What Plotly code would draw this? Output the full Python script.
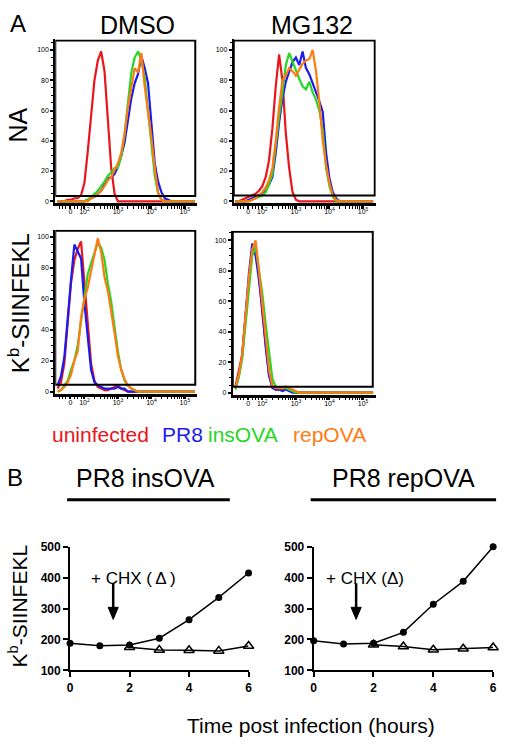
import plotly.graph_objects as go

W, H = 507, 750
FONT = "Arial, 'Liberation Sans', sans-serif"


def px(x):
    return x / W


def py(y):
    return 1 - y / H


# ---------------- Panel A data (flow histograms, % of max) ----------------
# x grid in display units of the biexponential axis (2 = 10^2, 3 = 10^3 ...)
fluor = [1.2, 1.3, 1.4, 1.5, 1.6, 1.7, 1.8, 1.9, 2.0, 2.1, 2.2, 2.3, 2.4, 2.5,
         2.6, 2.7, 2.8, 2.9, 3.0, 3.1, 3.2, 3.3, 3.4, 3.5, 3.6, 3.7, 3.8, 3.9,
         4.0, 4.1, 4.2, 4.3, 4.4, 4.5, 4.6, 4.7, 4.8, 4.9, 5.0, 5.1, 5.2, 5.3]

series_names = ["uninfected", "PR8", "insOVA", "repOVA"]
series_colors = ["#e8161b", "#1b1bf0", "#27d627", "#ff7b12"]

# DMSO / NA
dmso_na_uninf = [0, 0, 0, 1, 1, 2, 2, 4, 12, 33, 58, 80, 93, 99, 86, 52, 22, 5, 0, 0, 0,
                 0, 0, 0, 0, 0, 0, 0, 0, 0, 0, 0, 0, 0, 0, 0, 0, 0, 0, 0, 0, 0]
dmso_na_pr8 = [0, 0, 0, 0, 0, 0, 0, 0, 0, 1, 2, 3, 5, 7, 11, 15, 16, 18, 23, 30, 39,
               53, 68, 78, 84, 96, 88, 78, 50, 25, 13, 6, 2, 1, 0, 0, 0, 0, 0, 0, 0, 0]
dmso_na_ins = [0, 0, 0, 0, 0, 0, 0, 0, 0, 1, 3, 5, 7, 10, 13, 17, 19, 22, 22, 30, 44,
               65, 85, 95, 99, 93, 82, 59, 38, 17, 5, 1, 0, 0, 0, 0, 0, 0, 0, 0, 0, 0]
dmso_na_rep = [0, 0, 0, 0, 0, 0, 0, 0, 0, 0, 2, 3, 5, 7, 10, 14, 16, 20, 25, 32, 45,
               62, 76, 88, 85, 98, 76, 60, 42, 22, 6, 1, 0, 0, 0, 0, 0, 0, 0, 0, 0, 0]

# MG132 / NA
mg_na_uninf = [0, 0, 1, 2, 3, 4, 5, 7, 10, 16, 27, 48, 76, 97, 80, 45, 22, 6, 1, 0, 0,
               0, 0, 0, 0, 0, 0, 0, 0, 0, 0, 0, 0, 0, 0, 0, 0, 0, 0, 0, 0, 0]
mg_na_pr8 = [0, 0, 0, 0, 1, 2, 3, 4, 5, 8, 11, 16, 32, 52, 68, 79, 86, 92, 95, 90, 99,
             88, 84, 78, 73, 66, 59, 32, 15, 6, 2, 0, 0, 0, 0, 0, 0, 0, 0, 0, 0, 0]
mg_na_ins = [0, 0, 0, 0, 0, 1, 2, 3, 4, 6, 11, 18, 38, 56, 72, 90, 98, 92, 86, 81, 76,
             74, 79, 72, 67, 60, 47, 22, 10, 3, 0, 0, 0, 0, 0, 0, 0, 0, 0, 0, 0, 0]
mg_na_rep = [0, 0, 0, 0, 0, 1, 2, 4, 6, 9, 14, 22, 40, 62, 80, 83, 88, 86, 83, 87, 91,
             93, 94, 100, 86, 65, 40, 24, 12, 4, 1, 0, 0, 0, 0, 0, 0, 0, 0, 0, 0, 0]

# DMSO / Kb-SIINFEKL
dmso_kb_uninf = [2, 6, 18, 45, 70, 85, 92, 97, 70, 40, 18, 7, 3, 2, 1, 1, 2, 3, 4, 2, 1,
                 0, 0, 0, 0, 0, 0, 0, 0, 0, 0, 0, 0, 0, 0, 0, 0, 0, 0, 0, 0, 0]
dmso_kb_pr8 = [4, 10, 22, 50, 72, 95, 90, 86, 57, 33, 14, 6, 4, 3, 2, 2, 2, 2, 3, 2, 2,
               0, 0, 0, 0, 0, 0, 0, 0, 0, 0, 0, 0, 0, 0, 0, 0, 0, 0, 0, 0, 0]
dmso_kb_ins = [0, 1, 4, 7, 14, 20, 30, 45, 62, 76, 83, 90, 96, 93, 85, 70, 58, 42, 26, 14, 7,
               4, 2, 1, 0, 0, 0, 0, 0, 0, 0, 0, 0, 0, 0, 0, 0, 0, 0, 0, 0, 0]
dmso_kb_rep = [0, 1, 3, 6, 11, 20, 26, 48, 60, 67, 78, 88, 99, 90, 74, 65, 52, 38, 23, 14, 8,
               4, 2, 1, 0, 0, 0, 0, 0, 0, 0, 0, 0, 0, 0, 0, 0, 0, 0, 0, 0, 0]

# MG132 / Kb-SIINFEKL
mg_kb_uninf = [4, 14, 25, 50, 75, 95, 93, 78, 52, 33, 12, 4, 2, 2, 2, 3, 2, 1, 0, 0, 0,
               0, 0, 0, 0, 0, 0, 0, 0, 0, 0, 0, 0, 0, 0, 0, 0, 0, 0, 0, 0, 0]
mg_kb_pr8 = [3, 12, 24, 52, 78, 98, 90, 74, 55, 30, 11, 3, 2, 2, 1, 2, 1, 0, 0, 0, 0,
             0, 0, 0, 0, 0, 0, 0, 0, 0, 0, 0, 0, 0, 0, 0, 0, 0, 0, 0, 0, 0]
mg_kb_ins = [2, 10, 22, 45, 70, 90, 96, 82, 65, 45, 25, 9, 4, 3, 3, 3, 2, 1, 0, 0, 0,
             0, 0, 0, 0, 0, 0, 0, 0, 0, 0, 0, 0, 0, 0, 0, 0, 0, 0, 0, 0, 0]
mg_kb_rep = [3, 12, 25, 50, 76, 94, 100, 80, 58, 36, 15, 4, 3, 3, 3, 4, 3, 2, 1, 0, 0,
             0, 0, 0, 0, 0, 0, 0, 0, 0, 0, 0, 0, 0, 0, 0, 0, 0, 0, 0, 0, 0]

x_tickvals = [1.58, 2, 3, 4, 5]
x_ticktext = ["0", "10<sup>2</sup>", "10<sup>3</sup>", "10<sup>4</sup>", "10<sup>5</sup>"]
y_tickvals = [0, 20, 40, 60, 80, 100]

# ---------------- Panel B data ----------------
hours = [0, 1, 2, 3, 4, 5, 6]
chx_hours = [2, 3, 4, 5, 6]
ins_ctrl = [188, 180, 182, 204, 264, 336, 415]
ins_chx = [175, 166, 165, 163, 179]
rep_ctrl = [196, 185, 188, 223, 314, 388, 500]
rep_chx = [183, 177, 167, 170, 174]
b_xticks = [0, 2, 4, 6]
b_yticks = [100, 200, 300, 400, 500]

fig = go.Figure()

panels = [
    (1, [dmso_na_uninf, dmso_na_pr8, dmso_na_ins, dmso_na_rep], (53, 197), (33, 200), [1.13, 5.37], [-1.3, 107], 5.31, 3.5, 106.3),
    (2, [mg_na_uninf, mg_na_pr8, mg_na_ins, mg_na_rep], (234, 378), (33, 200), [1.15, 5.38], [-1.3, 107], 5.35, 3.8, 106.3),
    (3, [dmso_kb_uninf, dmso_kb_pr8, dmso_kb_ins, dmso_kb_rep], (53, 197), (227, 394), [1.13, 5.37], [-1.3, 104.5], 5.31, 4.4, 103.9),
    (4, [mg_kb_uninf, mg_kb_pr8, mg_kb_ins, mg_kb_rep], (233, 378), (228, 395), [1.12, 5.38], [-1.3, 106.4], 5.29, 3.9, 105.8),
]

minor_x = [1.25, 1.35, 1.45, 1.7, 1.8, 1.9]
for k in (2, 3, 4):
    for m in (0.301, 0.477, 0.602, 0.699, 0.778, 0.845, 0.903, 0.954):
        minor_x.append(k + m)

shapes = []
for idx, data, xd, yd, xr, yr, boxr, gate, boxtop in panels:
    xa = "x" if idx == 1 else f"x{idx}"
    ya = "y" if idx == 1 else f"y{idx}"
    shapes.append(dict(type="rect", xref=xa, yref=ya, x0=xr[0], x1=boxr, y0=gate, y1=boxtop,
                       line=dict(color="black", width=2), layer="above"))
    for vals, name, col in zip(data, series_names, series_colors):
        fig.add_trace(go.Scatter(x=fluor, y=vals, mode="lines", name=name,
                                 line=dict(color=col, width=2.2), xaxis=xa, yaxis=ya,
                                 showlegend=False, cliponaxis=False))
    xkey = "xaxis" if idx == 1 else f"xaxis{idx}"
    ykey = "yaxis" if idx == 1 else f"yaxis{idx}"
    fig.update_layout(**{
        xkey: dict(domain=[px(xd[0]), px(xd[1])], range=xr, anchor=ya,
                   showline=True, linecolor="black", linewidth=2.5, mirror=False,
                   ticks="outside", ticklen=3, tickwidth=1.5, tickcolor="black",
                   tickvals=x_tickvals, ticktext=x_ticktext, showgrid=False, zeroline=False,
                   ticklabelstandoff=-3,
                   tickfont=dict(family=FONT, size=7, color="black"),
                   minor=dict(tickvals=minor_x, ticks="outside", ticklen=2.5, tickwidth=1.2,
                              tickcolor="black", showgrid=False)),
        ykey: dict(domain=[py(yd[1]), py(yd[0])], range=yr, anchor=xa,
                   showline=True, linecolor="black", linewidth=2,
                   ticks="outside", ticklen=3, tickwidth=1.5, tickcolor="black",
                   tickvals=y_tickvals, showgrid=False, zeroline=False,
                   tickfont=dict(family=FONT, size=7, color="black"),
                   minor=dict(dtick=5, ticks="outside", ticklen=2, tickwidth=1,
                              tickcolor="black", showgrid=False)),
    })

# ---------------- Panel B plots ----------------
b_panels = [
    (5, ins_ctrl, ins_chx, (68, 249), 1.45),
    (6, rep_ctrl, rep_chx, (315, 497), 1.42),
]
for idx, ctrl, chx, xd, arrow_x in b_panels:
    xa, ya = f"x{idx}", f"y{idx}"
    fig.add_trace(go.Scatter(x=hours, y=ctrl, mode="lines+markers", xaxis=xa, yaxis=ya,
                             line=dict(color="black", width=1.5),
                             marker=dict(symbol="circle", size=7, color="black"),
                             showlegend=False, cliponaxis=False))
    fig.add_trace(go.Scatter(x=chx_hours, y=chx, mode="lines+markers", xaxis=xa, yaxis=ya,
                             line=dict(color="black", width=1.5),
                             marker=dict(symbol="triangle-up-open", size=9, color="black",
                                         line=dict(width=1.5)),
                             showlegend=False, cliponaxis=False))
    fig.update_layout(**{
        f"xaxis{idx}": dict(domain=[px(xd[0]), px(xd[1])], range=[0, 6], anchor=ya,
                            showline=True, linecolor="black", linewidth=2,
                            ticks="outside", ticklen=5, tickwidth=2, tickcolor="black",
                            tickvals=b_xticks, showgrid=False, zeroline=False,
                            tickfont=dict(family=FONT, size=12, color="black", weight="bold")),
        f"yaxis{idx}": dict(domain=[py(676), py(550)], range=[100, 500], anchor=xa,
                            showline=True, linecolor="black", linewidth=2,
                            ticks="outside", ticklen=5, tickwidth=2, tickcolor="black",
                            tickvals=b_yticks, showgrid=False, zeroline=False,
                            tickfont=dict(family=FONT, size=12, color="black", weight="bold")),
    })
    shapes.append(dict(type="line", xref=xa, yref=ya, x0=arrow_x, x1=arrow_x, y0=382, y1=300,
                       line=dict(color="black", width=2.5)))
    shapes.append(dict(type="path", xref=xa, yref=ya,
                       path=f"M {arrow_x - 0.17},304 L {arrow_x + 0.17},304 L {arrow_x},265 Z",
                       fillcolor="black", line=dict(color="black", width=1)))

shapes.append(dict(type="line", xref="paper", yref="paper", x0=px(65), x1=px(230), y0=py(502), y1=py(502),
                   line=dict(color="black", width=3)))
shapes.append(dict(type="line", xref="paper", yref="paper", x0=px(312), x1=px(500), y0=py(502), y1=py(502),
                   line=dict(color="black", width=3)))

ann = []


def text(x, y, s, size, color="black", xanchor="center", angle=0):
    ann.append(dict(x=px(x), y=py(y), xref="paper", yref="paper", text=s, showarrow=False,
                    xanchor=xanchor, yanchor="middle", textangle=angle,
                    font=dict(family=FONT, size=size, color=color)))


text(15, 17, "A", 24)
text(136, 18, "DMSO", 25)
text(313, 18, "MG132", 25)
text(15, 120, "NA", 25, angle=-90)
text(17, 302, "K<sup>b</sup>-SIINFEKL", 24, angle=-90)

legend_x = [48, 159, 206, 292]
for name, col, lx in zip(series_names, series_colors, legend_x):
    text(lx, 436, name, 21, color=col, xanchor="left")

text(12, 479, "B", 24)
text(145, 480, "PR8 insOVA", 25)
text(406, 480, "PR8 repOVA", 25)
text(15, 610, "K<sup>b</sup>-SIINFEKL", 21, angle=-90)
text(312, 732, "Time post infection (hours)", 21)

ann.append(dict(x=2.13, y=397, xref="x5", yref="y5", text="+ CHX (\u2009\u0394\u2009)", showarrow=False,
                xanchor="center", yanchor="middle", font=dict(family=FONT, size=17, color="black")))
ann.append(dict(x=1.73, y=397, xref="x6", yref="y6", text="+ CHX (\u0394)", showarrow=False,
                xanchor="center", yanchor="middle", font=dict(family=FONT, size=17, color="black")))

fig.update_layout(width=W, height=H, margin=dict(l=0, r=0, t=0, b=0),
                  paper_bgcolor="white", plot_bgcolor="white",
                  shapes=shapes, annotations=ann, showlegend=False)

fig.write_html("out.html", config={"displayModeBar": False},
               post_script="document.body.style.margin='0';document.body.style.overflow='hidden';")
